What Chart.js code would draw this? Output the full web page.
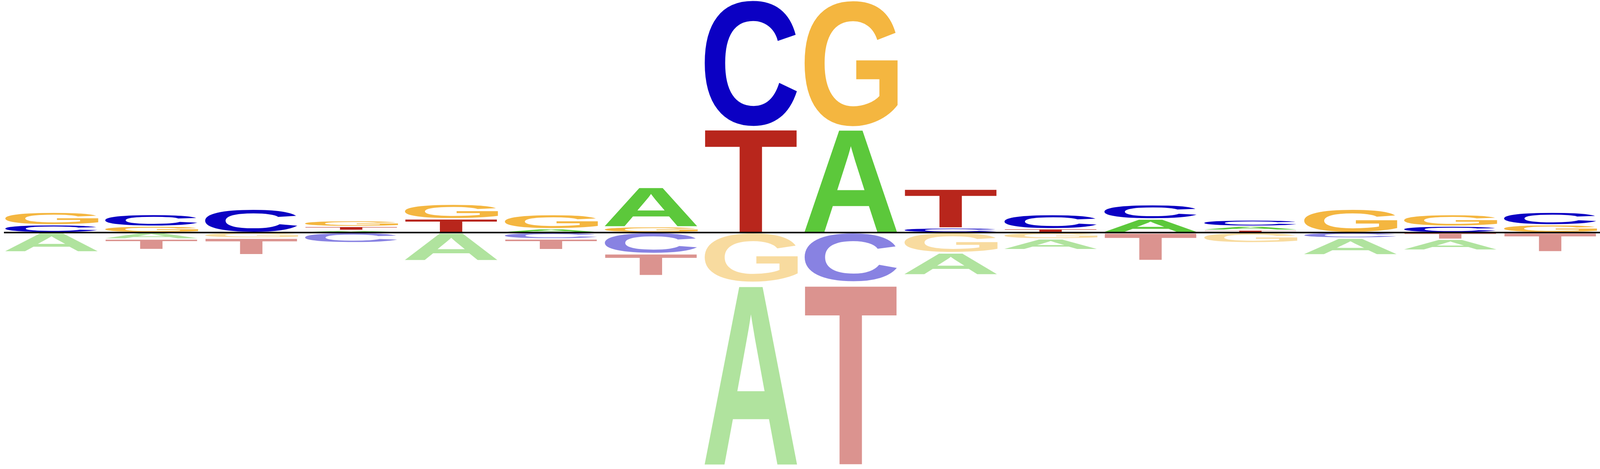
<!DOCTYPE html>
<html>
<head>
<meta charset="utf-8">
<script src="https://cdn.jsdelivr.net/npm/chart.js@4.4.1/dist/chart.umd.min.js"></script>
<style>
  html, body { margin: 0; padding: 0; background: #ffffff; overflow: hidden; }
  #wrap { position: relative; }
</style>
</head>
<body>
<div id="wrap"><canvas id="c"></canvas></div>
<script>
// ---- data (letter heights per position) ----
const positions = ['1','2','3','4','5','6','7','8','9','10','11','12','13','14','15','16'];
const letters = ['A','C','G','T'];
// positive (above baseline)
const posA = [0,0,0,0.021,0,0.036,0.379,0,0.991,0,0,0.129,0.038,0,0,0];
const posC = [0.073,0.111,0.221,0,0,0,0,1.211,0,0.044,0.134,0.134,0.058,0,0.060,0.119];
const posG = [0.119,0.060,0,0.054,0.137,0.134,0.055,0,1.211,0,0,0,0,0.221,0.110,0.073];
const posT = [0,0,0,0.037,0.131,0,0,0.993,0,0.373,0.036,0,0.023,0,0,0];
// negative (below baseline), magnitudes
const negA = [0.182,0.060,0,0,0.265,0,0,1.727,0,0.209,0.102,0,0,0.159,0.102,0];
const negC = [0,0,0,0.096,0,0.059,0.198,0,0.470,0,0,0,0,0.051,0,0];
const negG = [0,0,0.051,0,0,0,0,0.473,0,0.190,0.059,0,0.097,0,0,0];
const negT = [0,0.100,0.158,0,0,0.102,0.209,0,1.727,0,0,0.263,0,0,0.063,0.181];

const posColors = { A: '#5CC83B', C: '#0B00C3', G: '#F4B640', T: '#B8261C' };
const negColors = { A: '#B0E39E', C: '#8882E2', G: '#F8DB9F', T: '#DB938F' };

// ---- build rank-ordered stacked datasets ----
const posData = { A: posA, C: posC, G: posG, T: posT };
const negData = { A: negA, C: negC, G: negG, T: negT };

function buildDatasets(src, sign, colors) {
  const sets = [];
  for (let r = 0; r < 4; r++) {
    sets.push({ data: positions.map(() => null), letter: positions.map(() => null),
                colorMap: colors, stack: 'logo',
                backgroundColor: 'rgba(0,0,0,0)', borderWidth: 0 });
  }
  positions.forEach((p, i) => {
    const items = letters.map(L => ({ L, v: src[L][i] })).filter(o => o.v > 0)
                         .sort((a, b) => a.v - b.v);
    items.forEach((o, r) => {
      sets[r].data[i] = sign * o.v;
      sets[r].letter[i] = o.L;
    });
  });
  return sets;
}
const datasets = buildDatasets(posData, 1, posColors).concat(buildDatasets(negData, -1, negColors));

const W = window.innerWidth || 4800;
const H = window.innerHeight || 1200;
const sx = W / 4800, sy = H / 1200;
const wrap = document.getElementById('wrap');
wrap.style.width = W + 'px';
wrap.style.height = H + 'px';

const logoPlugin = {
  id: 'logo',
  afterDatasetsDraw(chart) {
    const ctx = chart.ctx;
    ctx.save();
    ctx.font = 'bold 400px "Liberation Sans", Arial, sans-serif';
    ctx.textBaseline = 'alphabetic';
    ctx.textAlign = 'left';
    const inset = 1.5 * sy;
    let firstLeft = null;
    chart.data.datasets.forEach((ds, di) => {
      const meta = chart.getDatasetMeta(di);
      meta.data.forEach((el, j) => {
        const v = ds.data[j];
        const L = ds.letter[j];
        if (v === null || !L) return;
        const p = el.getProps(['x', 'y', 'base', 'width'], true);
        const left = p.x - p.width / 2;
        if (firstLeft === null || left < firstLeft) firstLeft = left;
        const top = Math.min(p.y, p.base) + inset;
        const bottom = Math.max(p.y, p.base) - inset;
        const h = bottom - top;
        if (h <= 0.2) return;
        const m = ctx.measureText(L);
        const gw = m.actualBoundingBoxLeft + m.actualBoundingBoxRight;
        const gh = m.actualBoundingBoxAscent + m.actualBoundingBoxDescent;
        ctx.save();
        ctx.translate(left, top);
        ctx.scale(p.width / gw, h / gh);
        ctx.fillStyle = ds.colorMap[L];
        ctx.fillText(L, m.actualBoundingBoxLeft, m.actualBoundingBoxAscent);
        ctx.restore();
      });
    });
    // baseline
    const y0 = chart.scales.y.getPixelForValue(0);
    ctx.beginPath();
    ctx.moveTo(firstLeft, y0);
    ctx.lineTo(chart.chartArea.right, y0);
    ctx.lineWidth = 4 * sy;
    ctx.strokeStyle = '#000000';
    ctx.stroke();
    ctx.restore();
  }
};

new Chart(document.getElementById('c'), {
  type: 'bar',
  data: { labels: positions, datasets },
  options: {
    responsive: true,
    maintainAspectRatio: false,
    devicePixelRatio: 1,
    animation: false,
    events: [],
    layout: { padding: { left: 4 * sx, right: 0, top: 0, bottom: 10 * sy } },
    plugins: { legend: { display: false }, tooltip: { enabled: false } },
    datasets: { bar: { barPercentage: 0.9475, categoryPercentage: 1.0 } },
    scales: {
      x: { stacked: true, display: false, offset: true },
      y: { stacked: true, display: false, min: -2.2, max: 2.2 }
    }
  },
  plugins: [logoPlugin]
});
</script>
</body>
</html>
